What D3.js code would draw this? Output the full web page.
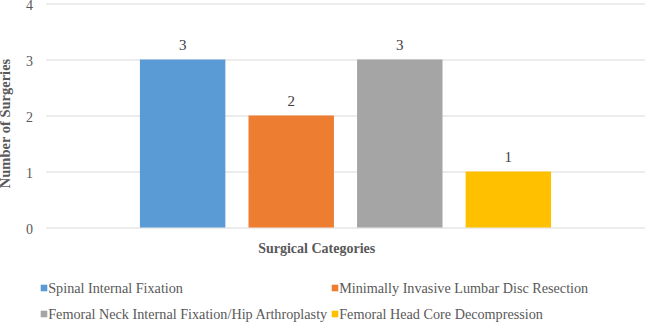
<!DOCTYPE html>
<html>
<head>
<meta charset="utf-8">
<script src="https://cdn.jsdelivr.net/npm/d3@7"></script>
<style>
  body { margin: 0; background: #fff; }
  svg { display: block; }
</style>
</head>
<body>
<script>
var categories = ["Spinal Internal Fixation", "Minimally Invasive Lumbar Disc Resection",
                  "Femoral Neck Internal Fixation/Hip Arthroplasty", "Femoral Head Core Decompression"];
var counts = [3, 2, 3, 1];
var colors = ["#5B9BD5", "#ED7D31", "#A5A5A5", "#FFC000"];
var yTicks = [0, 1, 2, 3, 4];

var width = 646, height = 322;
var plotLeft = 46, plotRight = 645, plotTop = 3.5, plotBottom = 227.5;
var serif = "'Liberation Serif', 'Times New Roman', serif";

var svg = d3.select("body").append("svg")
    .attr("width", width)
    .attr("height", height);

var xScale = d3.scaleBand()
    .domain(categories)
    .range([plotLeft, plotRight])
    .paddingInner(0.213)
    .paddingOuter(0.865);

var yScale = d3.scaleLinear()
    .domain([0, 4])
    .range([plotBottom, plotTop]);

// y axis + gridlines
var yAxis = d3.axisLeft(yScale)
    .tickValues(yTicks)
    .tickSize(-(plotRight - plotLeft))
    .tickPadding(13)
    .tickFormat(d3.format("d"));

var gy = svg.append("g")
    .attr("transform", "translate(" + plotLeft + ",0)")
    .call(yAxis);
gy.select(".domain").remove();
gy.selectAll(".tick line").attr("stroke", "#D9D9D9").attr("stroke-width", 1);
gy.selectAll(".tick text")
    .attr("fill", "#595959")
    .attr("dy", "0.4em")
    .style("font-size", "14px")
    .style("font-family", serif);

// bars
svg.selectAll("rect.bar")
    .data(categories)
    .enter().append("rect")
    .attr("class", "bar")
    .attr("x", function(d) { return xScale(d); })
    .attr("width", xScale.bandwidth())
    .attr("y", function(d, i) { return yScale(counts[i]); })
    .attr("height", function(d, i) { return yScale(0) - yScale(counts[i]); })
    .attr("fill", function(d, i) { return colors[i]; });

// value labels above bars
svg.selectAll("text.val")
    .data(categories)
    .enter().append("text")
    .attr("class", "val")
    .attr("x", function(d) { return xScale(d) + xScale.bandwidth() / 2; })
    .attr("y", function(d, i) { return yScale(counts[i]) - 9.5; })
    .attr("text-anchor", "middle")
    .attr("fill", "#404040")
    .style("font-size", "15px")
    .style("font-family", serif)
    .text(function(d, i) { return counts[i]; });

// axis titles
svg.append("text")
    .attr("x", 316.7)
    .attr("y", 253)
    .attr("text-anchor", "middle")
    .attr("fill", "#595959")
    .style("font-size", "14px")
    .style("font-weight", "bold")
    .style("font-family", serif)
    .text("Surgical Categories");

svg.append("text")
    .attr("transform", "translate(10,123.5) rotate(-90)")
    .attr("text-anchor", "middle")
    .attr("fill", "#595959")
    .style("font-size", "14.5px")
    .style("font-weight", "bold")
    .style("font-family", serif)
    .text("Number of Surgeries");

// legend, two per row
var legend = svg.selectAll("g.leg")
    .data(categories)
    .enter().append("g")
    .attr("class", "leg")
    .attr("transform", function(d, i) {
        return "translate(" + (i % 2 === 0 ? 40.7 : 331.7) + "," + (i < 2 ? 293 : 319) + ")";
    });

legend.append("rect")
    .attr("x", 0)
    .attr("y", -8.3)
    .attr("width", 6.6)
    .attr("height", 6.6)
    .attr("fill", function(d, i) { return colors[i]; });

legend.append("text")
    .attr("x", 7.5)
    .attr("y", 0)
    .attr("fill", "#595959")
    .style("font-size", "14.2px")
    .style("font-family", serif)
    .text(function(d) { return d; });
</script>
</body>
</html>
